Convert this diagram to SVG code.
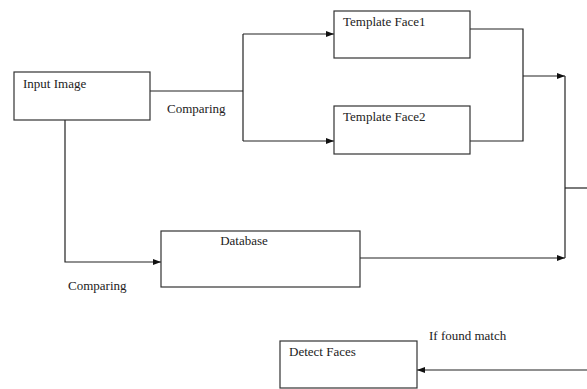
<svg xmlns="http://www.w3.org/2000/svg" width="587" height="389" viewBox="0 0 587 389">
<style>
.box{fill:#fff;stroke:#333;stroke-width:1.2}
.ln{fill:none;stroke:#222;stroke-width:1.2}
text{font-family:"Liberation Serif","Times New Roman",serif;font-size:13px;fill:#222}
</style>
<defs>
<marker id="ah" viewBox="0 0 8 6" refX="8" refY="3" markerWidth="8" markerHeight="6" markerUnits="userSpaceOnUse" orient="auto">
<path d="M0,0 L8,3 L0,6 Z" fill="#111"/>
</marker>
</defs>
<rect width="587" height="389" fill="#fff"/>
<g id="connectors">
<path class="ln" d="M150,91 H243"/>
<path class="ln" d="M243,34 V141"/>
<path class="ln" d="M243,34 H334" marker-end="url(#ah)"/>
<path class="ln" d="M243,141 H334" marker-end="url(#ah)"/>
<path class="ln" d="M470,29 H523 V141 H470"/>
<path class="ln" d="M523,76 H565" marker-end="url(#ah)"/>
<path class="ln" d="M565,76 V258"/>
<path class="ln" d="M565,188 H587"/>
<path class="ln" d="M65,120 V262 H161" marker-end="url(#ah)"/>
<path class="ln" d="M360,258 H565" marker-end="url(#ah)"/>
<path class="ln" d="M587,370 H417" marker-end="url(#ah)"/>
<text x="167" y="113">Comparing</text>
<text x="68" y="290">Comparing</text>
<text x="429" y="340">If found match</text>
</g>
<g id="input-image">
<rect class="box" x="14" y="72" width="136" height="48"/>
<text x="23" y="88">Input Image</text>
</g>
<g id="template-face1">
<rect class="box" x="334" y="11" width="136" height="47"/>
<text x="343" y="26">Template Face1</text>
</g>
<g id="template-face2">
<rect class="box" x="334" y="106" width="136" height="48"/>
<text x="343" y="121">Template Face2</text>
</g>
<g id="database">
<rect class="box" x="161" y="231" width="199" height="56"/>
<text x="244" y="245" text-anchor="middle">Database</text>
</g>
<g id="detect-faces">
<rect class="box" x="280" y="341" width="137" height="47"/>
<text x="289" y="356">Detect Faces</text>
</g>
</svg>
